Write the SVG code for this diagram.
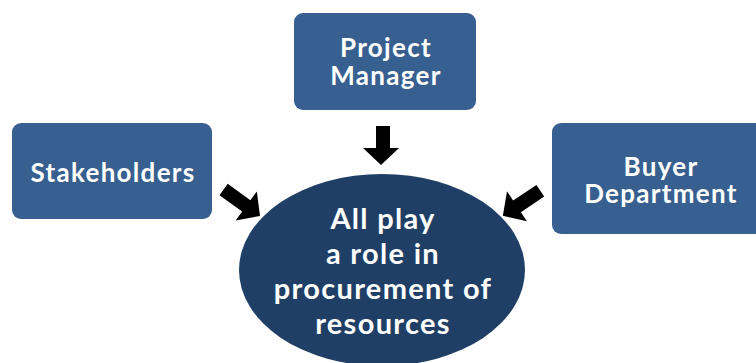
<svg xmlns="http://www.w3.org/2000/svg" width="756" height="363" viewBox="0 0 756 363">
<defs>
<style>
.box{fill:#375F90;}
.ell{fill:#1F3F66;}
.t{fill:#FFFFFF;font-family:Lato,"Open Sans","DejaVu Sans",sans-serif;font-weight:bold;text-anchor:middle;}
.s{font-size:26px;letter-spacing:1.3px;}
.b{font-size:29px;letter-spacing:1.3px;}
.arr{fill:#000000;}
</style>
<polygon id="arrowShape" points="0,-7 28,-7 28,-18 45,0 28,18 28,7 0,7"/>
</defs>
<rect width="756" height="363" fill="#FFFFFF"/>
<g id="connectors">
<polygon class="arr" points="376,126 390,126 390,148 399,148 381,165 363,148 376,148"/>
<use href="#arrowShape" class="arr" transform="translate(223.6,189.5) rotate(36)"/>
<use href="#arrowShape" class="arr" transform="translate(540.3,190.8) rotate(146.3)"/>
</g>
<g id="center">
<ellipse class="ell" cx="382" cy="270" rx="143" ry="96"/>
<text class="t b" x="383" y="229">All play</text>
<text class="t b" x="383" y="264">a role in</text>
<text class="t b" x="383" y="299">procurement of</text>
<text class="t b" x="383" y="334">resources</text>
</g>
<g id="project-manager">
<rect class="box" x="294" y="13" width="182" height="97" rx="9"/>
<text class="t s" x="386" y="57">Project</text>
<text class="t s" x="386" y="85">Manager</text>
</g>
<g id="stakeholders">
<rect class="box" x="12" y="123" width="200" height="96" rx="9"/>
<text class="t s" x="113" y="182">Stakeholders</text>
</g>
<g id="buyer-department">
<rect class="box" x="552" y="123" width="214" height="111" rx="9"/>
<text class="t s" x="661" y="176">Buyer</text>
<text class="t s" x="661" y="203">Department</text>
</g>
</svg>
